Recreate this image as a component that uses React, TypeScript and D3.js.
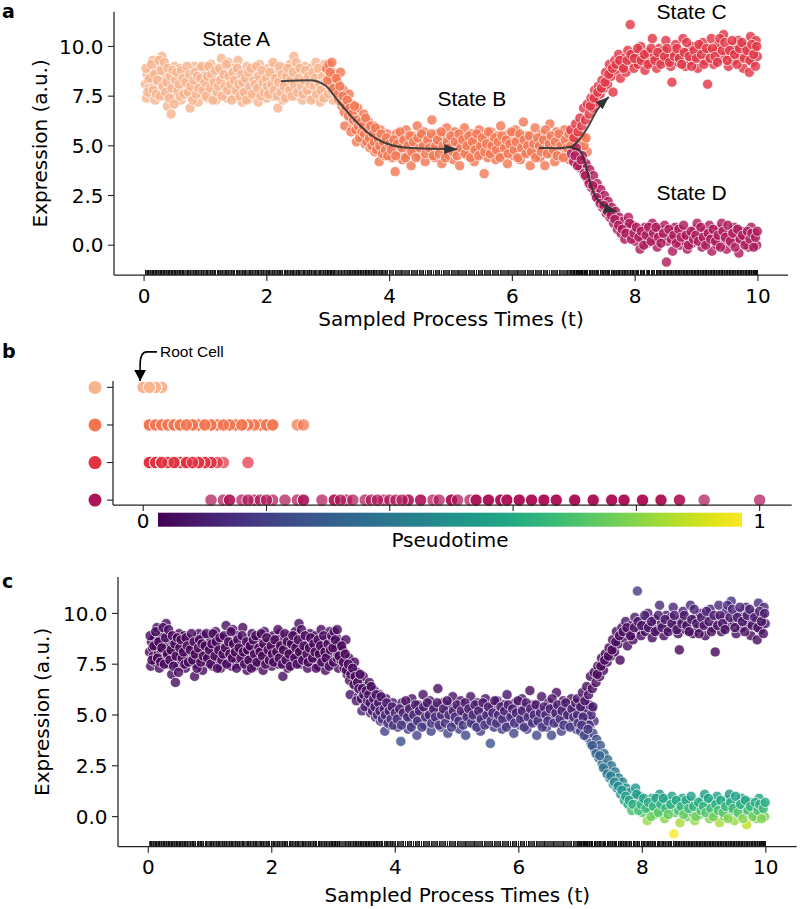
import React from 'react';
import * as d3 from 'd3';

const stateNames = ['State A', 'State B', 'State C', 'State D'];
const stateColors = ['#f6b48f', '#f37651', '#e13342', '#ad1759'];

// every cell: [sampled time t, expression (a.u.), pseudotime]
const stateA = [
  [0.02,8.1,.01],[0.04,7.4,.02],[0.05,8.6,.01],[0.07,8.3,0],[0.08,7.9,.01],[0.10,8.8,.02],[0.11,7.6,.02],[0.13,8.4,.01],
  [0.14,9.3,.03],[0.16,8.0,.01],[0.18,7.3,.02],[0.19,8.7,.02],[0.21,8.2,.01],[0.23,9.0,.02],[0.25,7.8,.01],[0.27,8.5,.01],
  [0.29,9.5,.03],[0.30,8.1,0],[0.32,7.5,.02],[0.34,8.9,.02],[0.36,8.3,.01],[0.38,7.0,.03],[0.40,8.6,.01],[0.42,7.8,.01],
  [0.44,6.6,.03],[0.46,8.2,.01],[0.48,7.4,.02],[0.50,9.0,.02],[0.52,8.0,.01],[0.54,7.7,.01],[0.56,8.5,.01],[0.58,8.9,.02],
  [0.60,7.3,.02],[0.62,8.2,0],[0.64,7.9,.01],[0.66,8.7,.01],[0.69,7.6,.01],[0.71,8.4,.01],[0.73,8.0,0],[0.75,6.9,.03],
  [0.77,7.5,.02],[0.80,8.6,.01],[0.82,9.0,.02],[0.84,7.8,.01],[0.86,8.3,0],[0.88,7.2,.02],[0.90,8.9,.02],[0.93,8.1,.01],
  [0.95,7.6,.01],[0.97,8.5,.01],[1.00,7.9,0],[1.02,8.7,.01],[1.04,7.4,.02],[1.06,8.2,0],[1.09,9.1,.02],[1.11,7.7,.01],
  [1.13,8.4,.01],[1.15,8.0,0],[1.17,7.3,.02],[1.20,8.8,.01],[1.22,8.3,0],[1.24,7.6,.01],[1.26,9.4,.03],[1.28,8.1,0],
  [1.31,7.9,.01],[1.33,8.6,.01],[1.35,7.4,.02],[1.37,9.2,.02],[1.39,8.2,0],[1.42,7.7,.01],[1.44,8.9,.02],[1.46,8.0,0],
  [1.48,7.5,.01],[1.51,8.4,.01],[1.53,9.3,.02],[1.55,7.8,.01],[1.57,8.3,0],[1.60,7.2,.02],[1.62,8.7,.01],[1.64,8.0,0],
  [1.66,7.6,.01],[1.68,9.0,.02],[1.71,8.2,0],[1.73,7.4,.02],[1.75,8.5,.01],[1.77,7.9,0],[1.80,8.8,.01],[1.82,7.7,.01],
  [1.84,8.3,0],[1.86,7.2,.02],[1.88,9.1,.02],[1.91,8.1,0],[1.93,7.6,.01],[1.95,8.6,.01],[1.97,8.0,0],[2.00,7.4,.02],
  [2.02,8.9,.02],[2.04,8.3,0],[2.06,7.8,.01],[2.09,8.5,.01],[2.11,7.5,.01],[2.13,9.0,.02],[2.15,8.1,0],[2.18,6.9,.03],
  [2.20,8.7,.01],[2.22,7.9,0],[2.24,8.4,.01],[2.26,7.3,.02],[2.29,8.9,.02],[2.31,8.2,0],[2.33,7.7,.01],[2.35,8.6,.01],
  [2.38,9.1,.02],[2.40,7.9,0],[2.42,8.4,.01],[2.44,9.5,.03],[2.46,7.5,.01],[2.49,8.1,0],[2.51,8.8,.01],[2.53,7.8,.01],
  [2.55,8.3,0],[2.58,7.3,.02],[2.60,8.6,.01],[2.62,9.0,.02],[2.64,7.9,0],[2.67,8.4,.01],[2.69,7.6,.01],[2.71,8.9,.02],
  [2.73,8.1,0],[2.76,7.4,.02],[2.78,8.5,.01],[2.80,9.2,.02],[2.82,7.8,.01],[2.85,8.3,0],[2.87,7.2,.02],[2.89,8.7,.01],
  [2.92,8.0,0],[2.94,9.1,.02],[2.96,7.5,.01],[2.99,8.4,.01],[3.02,7.9,0],[3.05,8.8,.01],[3.08,7.3,.02],
  [0.03,8.9,.02],[0.06,7.7,.01],[0.09,8.4,.01],[0.12,9.1,.02],[0.15,7.8,.01],[0.17,8.6,.01],[0.20,7.6,.01],[0.22,8.3,0],
  [0.24,9.3,.03],[0.26,7.5,.02],[0.28,8.8,.02],[0.31,8.0,0],[0.33,9.2,.02],[0.35,7.7,.01],[0.37,8.2,0],[0.39,8.9,.02],
  [0.41,7.4,.02],[0.43,8.5,.01],[0.45,7.9,0],[0.47,8.8,.01],[0.49,7.1,.03],[0.51,8.3,0],[0.53,8.7,.01],[0.55,7.8,.01],
  [0.57,8.1,0],[0.59,7.5,.02],[0.61,8.8,.01],[0.63,8.4,0],[0.65,7.6,.01],[0.68,8.2,0],[0.70,9.0,.02],[0.72,7.7,.01],
  [0.74,8.6,.01],[0.76,8.0,0],[0.79,7.3,.02],[0.81,8.3,0],[0.83,8.7,.01],[0.85,7.6,.01],[0.87,8.5,.01],[0.89,7.9,0],
  [0.92,8.4,0],[0.94,9.0,.02],[0.96,7.8,.01],[0.99,8.2,0],[1.01,7.5,.02],[1.03,8.5,.01],[1.05,9.0,.02],[1.08,7.9,0],
  [1.10,8.6,.01],[1.12,7.3,.02],[1.14,8.2,0],[1.16,8.8,.01],[1.19,7.7,.01],[1.21,8.0,0],[1.23,8.9,.02],[1.25,8.3,0],
  [1.27,7.5,.02],[1.30,8.6,.01],[1.32,8.0,0],[1.34,9.1,.02],[1.36,7.8,.01],[1.38,8.5,.01],[1.41,8.1,0],[1.43,7.3,.02],
  [1.45,8.7,.01],[1.47,8.3,0],[1.50,7.8,.01],[1.52,8.9,.02],[1.54,8.1,0],[1.56,7.5,.02],[1.59,8.6,.01],[1.61,8.2,0],
  [1.63,7.7,.01],[1.65,8.4,0],[1.67,7.3,.02],[1.70,8.7,.01],[1.72,8.0,0],[1.74,8.9,.02],[1.76,7.6,.01],[1.79,8.3,0],
  [1.81,8.1,0],[1.83,9.0,.02],[1.85,7.9,0],[1.87,8.5,.01],[1.90,7.5,.02],[1.92,8.8,.01],[1.94,8.2,0],[1.96,7.7,.01],
  [1.99,8.4,0],[2.01,8.0,0],[2.03,7.6,.01],[2.05,8.7,.01],[2.08,8.1,0],[2.10,9.2,.02],[2.12,7.8,.01],[2.14,8.4,0],
  [2.17,7.5,.02],[2.19,8.2,0],[2.21,9.0,.02],[2.23,7.7,.01],[2.25,8.6,.01],[2.28,8.0,0],[2.30,7.4,.02],[2.32,8.5,.01],
  [2.34,8.9,.02],[2.37,7.8,.01],[2.39,8.3,0],[2.41,7.5,.02],[2.43,8.7,.01],[2.45,8.1,0],[2.48,9.2,.02],[2.50,7.7,.01],
  [2.52,8.4,0],[2.54,8.9,.02],[2.57,8.0,0],[2.59,7.6,.01],[2.61,8.3,0],[2.63,8.8,.01],[2.66,7.8,.01],[2.68,8.5,.01],
  [2.70,8.1,0],[2.72,7.3,.02],[2.75,8.7,.01],[2.77,8.0,0],[2.79,8.4,0],[2.81,7.6,.01],[2.84,8.9,.02],[2.86,8.1,0],
  [2.88,7.8,.01],[2.91,8.5,.01],[2.93,7.4,.02],[2.95,8.2,0],[2.98,8.8,.01],[3.00,7.6,.01],[3.03,8.3,0],[3.06,7.8,.01],
  [3.10,8.5,.01],
];

const stateB = [
  [2.97,8.9,.02],[3.01,9.1,.03],[3.04,8.4,.01],[3.07,8.0,.01],[3.10,8.6,.02],[3.12,7.7,.01],[3.15,8.2,.01],[3.17,7.3,.02],
  [3.20,8.7,.02],[3.22,7.0,.02],[3.25,7.8,.01],[3.27,6.0,.04],[3.29,7.4,.02],[3.32,6.8,.02],[3.34,7.6,.02],[3.36,6.4,.03],
  [3.38,7.1,.02],[3.40,5.9,.04],[3.42,6.7,.03],[3.44,6.2,.03],[3.46,5.2,.09],[3.48,6.9,.02],[3.50,5.7,.05],[3.52,6.4,.03],
  [3.54,6.0,.04],[3.56,5.4,.07],[3.58,6.6,.03],[3.60,5.1,.09],[3.62,5.9,.04],[3.64,5.5,.06],[3.66,6.2,.03],[3.68,4.9,.11],
  [3.70,5.7,.05],[3.72,5.3,.08],[3.74,6.0,.04],[3.76,4.7,.13],[3.78,5.5,.06],[3.80,5.1,.09],[3.83,4.2,.19],[3.85,5.8,.05],
  [3.87,4.9,.11],[3.89,5.4,.07],[3.92,4.5,.15],[3.94,5.0,.10],[3.96,5.6,.06],[3.99,4.8,.12],[4.01,5.3,.08],[4.04,4.4,.16],
  [4.06,5.1,.09],[4.09,3.7,.25],[4.11,5.6,.06],[4.14,4.7,.13],[4.16,5.0,.10],[4.19,5.4,.07],[4.21,4.3,.17],[4.24,4.9,.11],
  [4.27,5.8,.05],[4.29,4.6,.14],[4.32,5.2,.08],[4.35,4.0,.20],[4.37,5.5,.06],[4.40,4.8,.12],[4.42,5.1,.09],[4.45,6.0,.04],
  [4.48,4.5,.15],[4.50,5.3,.08],[4.53,4.9,.11],[4.56,5.7,.05],[4.58,4.2,.19],[4.61,5.0,.10],[4.64,5.4,.07],[4.66,4.7,.13],
  [4.69,6.3,.03],[4.72,5.1,.09],[4.74,4.4,.16],[4.77,5.6,.06],[4.80,4.9,.11],[4.82,5.2,.08],[4.85,4.1,.20],[4.88,5.5,.06],
  [4.90,4.8,.12],[4.93,5.9,.04],[4.96,4.6,.14],[4.98,5.3,.08],[5.01,5.0,.10],[5.04,4.3,.17],[5.06,5.7,.05],[5.09,4.8,.12],
  [5.12,5.1,.09],[5.14,4.0,.21],[5.17,5.4,.07],[5.20,4.7,.13],[5.22,5.9,.04],[5.25,5.2,.08],[5.28,4.5,.15],[5.30,5.0,.10],
  [5.33,5.6,.06],[5.36,4.8,.12],[5.38,4.2,.18],[5.41,5.3,.08],[5.44,4.9,.11],[5.46,5.8,.05],[5.49,4.6,.14],[5.52,5.1,.09],
  [5.54,3.6,.26],[5.57,5.4,.07],[5.60,4.4,.16],[5.62,5.0,.10],[5.65,5.7,.05],[5.68,4.7,.13],[5.70,5.2,.08],[5.73,4.3,.17],
  [5.76,5.5,.06],[5.78,4.9,.11],[5.81,6.0,.04],[5.84,4.6,.14],[5.86,5.3,.08],[5.89,5.0,.10],[5.92,4.1,.20],[5.94,5.6,.06],
  [5.97,4.8,.12],[6.00,5.2,.08],[6.02,4.5,.15],[6.05,5.8,.05],[6.08,4.9,.11],[6.10,5.4,.07],[6.13,4.3,.17],[6.16,5.1,.09],
  [6.18,6.2,.03],[6.21,4.7,.13],[6.24,5.5,.06],[6.26,5.0,.10],[6.29,4.0,.21],[6.32,5.3,.08],[6.34,4.6,.14],[6.37,5.9,.04],
  [6.40,4.9,.11],[6.42,5.2,.08],[6.45,4.4,.16],[6.48,5.6,.06],[6.50,4.8,.12],[6.53,4.0,.21],[6.56,5.4,.07],[6.58,5.0,.10],
  [6.61,6.1,.03],[6.64,4.6,.14],[6.66,5.2,.08],[6.69,4.2,.18],[6.72,5.7,.05],[6.74,4.9,.11],[6.77,5.3,.08],[6.80,4.5,.15],
  [6.82,5.0,.10],[6.85,5.8,.05],[6.88,4.7,.13],[6.90,5.3,.08],[6.93,4.3,.17],[6.96,5.5,.06],[6.98,4.9,.11],[7.01,5.2,.08],
  [7.04,4.6,.14],[7.06,5.6,.06],[7.09,4.8,.12],[7.12,5.1,.09],[7.15,4.4,.16],[7.18,5.3,.08],[7.22,4.7,.13],
  [2.99,8.3,.01],[3.03,8.7,.02],[3.06,9.2,.03],[3.09,7.9,.01],[3.13,8.4,.01],[3.16,7.6,.01],[3.19,8.0,.01],[3.21,7.2,.02],
  [3.24,7.5,.02],[3.26,6.7,.03],[3.28,7.0,.02],[3.31,7.3,.02],[3.33,6.5,.03],[3.35,6.9,.02],[3.37,5.7,.05],[3.39,6.6,.03],
  [3.41,6.3,.03],[3.43,7.0,.02],[3.45,5.8,.05],[3.47,6.3,.03],[3.49,6.0,.04],[3.51,5.4,.07],[3.53,6.2,.03],[3.55,5.7,.05],
  [3.57,6.0,.04],[3.59,5.6,.06],[3.61,6.4,.03],[3.63,5.2,.08],[3.65,5.8,.05],[3.67,5.4,.07],[3.69,6.0,.04],[3.71,5.0,.10],
  [3.73,5.6,.06],[3.75,5.2,.08],[3.77,5.9,.04],[3.79,4.8,.12],[3.82,5.3,.08],[3.84,5.0,.10],[3.86,5.6,.06],[3.88,4.6,.14],
  [3.90,5.2,.08],[3.93,4.8,.12],[3.95,5.4,.07],[3.97,4.5,.15],[4.00,5.1,.09],
  [4.03,4.8,.12],[4.07,5.3,.08],[4.10,4.5,.15],[4.13,5.1,.09],[4.17,5.7,.05],[4.20,4.9,.11],[4.23,5.3,.08],[4.26,4.4,.16],
  [4.30,5.0,.10],[4.33,5.5,.06],[4.36,4.7,.13],[4.39,5.2,.08],[4.43,4.4,.16],[4.46,5.4,.07],[4.49,4.9,.11],[4.52,5.6,.06],
  [4.55,5.0,.10],[4.59,4.6,.14],[4.62,5.3,.08],[4.65,4.9,.11],[4.68,5.6,.06],[4.71,4.5,.15],[4.75,5.0,.10],[4.78,5.3,.08],
  [4.81,4.6,.14],[4.84,5.7,.05],[4.87,5.0,.10],[4.91,4.4,.16],[4.94,5.2,.08],[4.97,4.9,.11],[5.00,5.5,.06],[5.03,4.7,.13],
  [5.07,5.2,.08],[5.10,4.5,.15],[5.13,5.6,.06],[5.16,4.9,.11],[5.19,5.3,.08],[5.23,4.6,.14],[5.26,5.0,.10],[5.29,5.5,.06],
  [5.32,4.4,.16],[5.35,5.2,.08],[5.39,4.8,.12],[5.42,5.6,.06],[5.45,4.5,.15],[5.48,5.0,.10],[5.51,5.4,.07],[5.55,4.7,.13],
  [5.58,5.1,.09],[5.61,5.7,.05],[5.64,4.6,.14],[5.67,5.0,.10],[5.71,5.4,.07],[5.74,4.8,.12],[5.77,5.2,.08],[5.80,4.4,.16],
  [5.83,5.5,.06],[5.87,4.9,.11],[5.90,5.3,.08],[5.93,4.6,.14],[5.96,5.1,.09],[5.99,5.7,.05],[6.03,4.8,.12],[6.06,5.2,.08],
  [6.09,4.4,.16],[6.12,5.6,.06],[6.15,4.9,.11],[6.19,5.3,.08],[6.22,4.6,.14],[6.25,5.0,.10],[6.28,5.5,.06],[6.31,4.7,.13],
  [6.35,5.1,.09],[6.38,4.4,.16],[6.41,5.4,.07],[6.44,5.0,.10],[6.47,4.7,.13],[6.51,5.3,.08],[6.54,5.8,.05],[6.57,4.6,.14],
  [6.60,5.1,.09],[6.63,5.5,.06],[6.67,4.8,.12],[6.70,5.2,.08],[6.73,4.5,.15],[6.76,5.6,.06],[6.79,5.0,.10],[6.83,4.4,.16],
  [6.86,5.3,.08],[6.89,4.9,.11],[6.92,5.6,.06],[6.95,5.0,.10],[6.99,4.6,.14],[7.02,5.4,.07],[7.05,4.9,.11],[7.08,5.3,.08],
  [7.11,4.7,.13],[7.14,5.5,.06],[7.17,5.0,.10],[7.20,5.4,.07],
];

const stateC = [
  [6.95,5.8,.05],[7.00,5.4,.07],[7.03,6.1,.04],[7.07,5.7,.05],[7.10,6.4,.03],[7.13,6.0,.04],[7.16,6.9,.02],[7.19,6.3,.03],
  [7.22,7.1,.01],[7.25,6.6,.02],[7.28,7.4,.01],[7.31,6.9,.02],[7.34,7.8,.01],[7.37,7.2,.01],[7.40,8.0,.01],[7.43,7.6,.01],
  [7.46,8.3,.02],[7.49,7.9,.01],[7.52,8.7,.02],[7.55,8.1,.01],[7.58,9.1,.03],[7.61,8.5,.02],[7.64,7.7,.01],[7.67,9.3,.04],
  [7.70,8.8,.02],[7.73,9.6,.05],[7.76,8.4,.02],[7.79,9.0,.03],[7.82,9.4,.04],[7.85,8.7,.02],[7.88,9.8,.06],[7.92,11.1,.17],
  [7.95,9.2,.03],[7.98,8.9,.02],[8.02,9.6,.05],[8.05,9.1,.03],[8.09,10.0,.08],[8.13,9.4,.04],[8.16,8.8,.02],[8.20,9.7,.06],
  [8.24,9.2,.03],[8.28,10.4,.11],[8.31,9.5,.05],[8.35,8.9,.02],[8.39,9.9,.07],[8.43,9.3,.04],[8.46,9.8,.07],[8.50,10.3,.10],
  [8.54,9.4,.04],[8.58,9.0,.03],[8.60,8.2,.01],[8.62,9.7,.06],[8.66,10.1,.09],[8.70,9.2,.03],[8.74,9.6,.05],[8.78,10.4,.11],
  [8.82,9.0,.03],[8.86,9.8,.07],[8.90,9.3,.04],[8.94,10.0,.08],[8.98,9.5,.05],[9.02,8.9,.02],[9.06,9.9,.07],[9.10,10.2,.09],
  [9.14,9.3,.04],[9.18,8.1,.01],[9.20,9.7,.06],[9.24,10.4,.11],[9.28,9.1,.03],[9.32,9.8,.07],[9.36,10.1,.09],[9.40,9.4,.04],
  [9.44,10.6,.13],[9.48,9.6,.05],[9.52,9.0,.03],[9.56,10.0,.08],[9.60,9.3,.04],[9.64,9.8,.07],[9.68,10.3,.10],[9.72,9.5,.05],
  [9.76,8.9,.02],[9.80,10.0,.08],[9.84,9.6,.05],[9.86,8.7,.02],[9.88,10.5,.12],[9.91,9.2,.03],[9.94,9.9,.07],[9.97,10.3,.10],
  [9.99,9.5,.05],
  [7.27,7.0,.02],[7.33,7.4,.01],[7.39,7.7,.01],[7.45,7.9,.01],[7.51,8.2,.01],[7.57,8.6,.02],[7.63,8.9,.02],[7.69,9.1,.03],
  [7.75,9.3,.04],[7.81,8.9,.02],[7.87,9.3,.04],[7.93,9.6,.05],[7.99,9.4,.04],[8.04,9.9,.07],[8.10,9.3,.04],[8.15,9.6,.05],
  [8.21,9.1,.03],[8.26,9.9,.07],[8.32,9.3,.04],[8.37,9.7,.06],[8.42,9.1,.03],[8.48,9.5,.05],[8.52,9.9,.07],[8.56,9.2,.03],
  [8.64,9.5,.05],[8.68,9.9,.07],[8.72,9.4,.04],[8.76,9.1,.03],[8.80,9.7,.06],[8.84,10.2,.09],[8.88,9.5,.05],[8.92,9.0,.03],
  [8.96,9.8,.07],[9.00,9.4,.04],[9.04,10.1,.09],[9.08,9.6,.05],[9.12,9.1,.03],[9.16,9.9,.07],[9.22,9.4,.04],[9.26,9.9,.07],
  [9.30,9.5,.05],[9.34,9.2,.03],[9.38,10.4,.11],[9.42,9.8,.07],[9.46,10.2,.09],[9.50,9.3,.04],[9.54,9.8,.07],[9.58,10.3,.10],
  [9.62,9.6,.05],[9.66,9.1,.03],[9.70,9.9,.07],[9.74,10.2,.09],[9.78,9.4,.04],[9.82,9.8,.07],[9.87,9.3,.04],[9.90,10.1,.09],
  [9.93,9.6,.05],[9.96,9.0,.03],[9.98,10.0,.08],
];

const stateD = [
  [6.96,4.6,.13],[7.00,4.2,.18],[7.04,4.9,.11],[7.08,4.4,.16],[7.11,3.9,.21],[7.14,4.5,.14],[7.17,3.6,.25],[7.20,4.1,.19],
  [7.23,3.3,.29],[7.26,3.8,.23],[7.29,2.9,.33],[7.32,3.5,.26],[7.35,2.6,.36],[7.38,3.1,.31],[7.41,2.3,.39],[7.44,2.8,.34],
  [7.47,1.9,.43],[7.50,2.5,.37],[7.53,1.6,.47],[7.56,2.2,.40],[7.59,1.4,.50],[7.62,1.9,.43],[7.65,1.1,.54],[7.68,1.7,.45],
  [7.71,0.8,.59],[7.74,1.4,.50],[7.77,0.6,.63],[7.80,1.2,.53],[7.83,0.3,.70],[7.86,0.9,.58],[7.89,1.4,.50],[7.92,0.5,.65],
  [7.96,1.0,.56],[8.00,0.2,.73],[8.04,0.7,.61],[8.08,-0.2,.84],[8.12,0.4,.67],[8.16,0.9,.58],[8.20,0.1,.76],[8.24,0.6,.63],
  [8.28,1.1,.54],[8.32,0.3,.70],[8.36,-0.1,.81],[8.40,0.8,.59],[8.44,0.4,.67],[8.48,1.0,.56],[8.51,-0.85,1],[8.53,0.2,.73],
  [8.57,0.6,.63],[8.61,-0.3,.87],[8.65,0.9,.58],[8.69,0.3,.70],[8.73,0.0,.78],[8.77,0.7,.61],[8.81,0.2,.73],[8.85,-0.2,.84],
  [8.89,0.5,.65],[8.93,0.1,.76],[8.97,0.8,.59],[9.01,1.1,.54],[9.05,0.4,.67],[9.09,-0.1,.81],[9.13,0.7,.61],[9.17,0.2,.73],
  [9.21,1.0,.56],[9.25,-0.3,.87],[9.29,0.5,.65],[9.33,0.0,.78],[9.37,0.8,.59],[9.41,1.1,.54],[9.45,0.3,.70],[9.49,-0.2,.84],
  [9.53,0.6,.63],[9.57,0.1,.76],[9.61,0.9,.58],[9.65,0.4,.67],[9.69,-0.4,.91],[9.73,0.7,.61],[9.77,0.2,.73],[9.81,0.5,.65],
  [9.85,-0.1,.81],[9.89,0.9,.58],[9.92,0.3,.70],[9.95,0.6,.63],[9.98,0.0,.78],
  [7.02,4.5,.14],[7.06,4.0,.20],[7.12,4.3,.17],[7.19,3.5,.26],[7.25,3.1,.31],[7.31,3.0,.32],[7.37,2.4,.38],[7.43,2.1,.41],
  [7.49,2.0,.42],[7.55,1.7,.45],[7.61,1.5,.48],[7.67,1.3,.51],[7.73,1.0,.56],[7.79,0.8,.59],[7.85,0.6,.63],[7.91,1.1,.54],
  [7.94,0.3,.70],[7.98,0.6,.63],[8.02,0.9,.58],[8.06,0.4,.67],[8.10,0.7,.61],[8.14,0.0,.78],[8.18,0.5,.65],[8.22,0.9,.58],
  [8.26,0.2,.73],[8.30,0.6,.63],[8.34,0.9,.58],[8.38,0.4,.67],[8.42,0.1,.76],[8.46,0.6,.63],[8.55,0.8,.59],[8.59,0.3,.70],
  [8.63,0.5,.65],[8.67,0.1,.76],[8.71,0.8,.59],[8.75,0.4,.67],[8.79,1.0,.56],[8.83,0.5,.65],[8.87,0.0,.78],[8.91,0.7,.61],
  [8.95,0.3,.70],[8.99,0.5,.65],[9.03,0.2,.73],[9.07,0.9,.58],[9.11,0.4,.67],[9.15,0.0,.78],[9.19,0.6,.63],[9.23,0.3,.70],
  [9.27,0.8,.59],[9.31,0.2,.73],[9.35,0.5,.65],[9.39,-0.1,.81],[9.43,0.7,.61],[9.47,0.4,.67],[9.51,1.0,.56],[9.55,0.2,.73],
  [9.59,0.6,.63],[9.63,-0.1,.81],[9.67,0.8,.59],[9.71,0.3,.70],[9.75,0.5,.65],[9.79,0.0,.78],[9.83,0.7,.61],[9.87,0.3,.70],
  [9.90,0.6,.63],[9.93,-0.1,.81],[9.96,0.4,.67],[9.99,0.7,.61],
];

const timeTicks = [0, 2, 4, 6, 8, 10];
const exprTicks = [0, 2.5, 5, 7.5, 10];
const ptTicks = [0, 0.2, 0.4, 0.6, 0.8, 1];
const ptTickLabels = ['0', '', '', '', '', '1'];

// trajectory arrows in panel a, in (t, expression)
const arrowAtoB = [[2.23, 8.25], [2.7, 8.3], [2.95, 8.05], [3.15, 7.3], [3.4, 6.4], [3.65, 5.65], [3.9, 5.18], [4.2, 4.93], [4.7, 4.85], [5.1, 4.83]];
const arrowBtoC = [[6.43, 4.9], [6.75, 4.88], [6.95, 4.95], [7.08, 5.28], [7.24, 6.0], [7.38, 6.8], [7.57, 7.46]];
const arrowBtoD = [[6.94, 4.93], [7.1, 4.75], [7.18, 4.2], [7.24, 3.44], [7.33, 2.6], [7.47, 2.05], [7.7, 1.68]];
const stateLabelPos = [[1.5, 10.0], [5.34, 7.0], [8.92, 11.4], [8.92, 2.26]];

const FONT = "'DejaVu Sans', sans-serif";
const ANNOT = "'Liberation Sans', Arial, sans-serif";
const AXIS = '#222';

const points = [stateA, stateB, stateC, stateD].flatMap((rows, s) =>
  rows.map(([t, e, pt]) => ({ t, e, pt, s }))
);

const curve = d3.line().curve(d3.curveMonotoneX);

const Scatter = ({ box, xDomain, yDomain, fill, letter, letterY, xLabelY, yLabelX, children }) => {
  const x = d3.scaleLinear().domain(xDomain).range([box.left, box.right]);
  const y = d3.scaleLinear().domain(yDomain).range([box.bottom, box.top]);
  return (
    <g>
      {points.map((d, i) => (
        <circle key={i} cx={x(d.t)} cy={y(d.e)} r={5.1} fill={fill(d)} fillOpacity={0.8} stroke="#fff" strokeWidth={0.7} />
      ))}
      <g shapeRendering="crispEdges">
        {points.map((d, i) => (
          <line key={'r' + i} x1={x(d.t)} x2={x(d.t)} y1={box.bottom} y2={box.bottom - 5.5} stroke="#000" strokeWidth={0.7} />
        ))}
      </g>
      <line x1={box.left} x2={box.left} y1={box.top} y2={box.bottom} stroke={AXIS} strokeWidth={1.25} />
      <line x1={box.left} x2={box.right} y1={box.bottom} y2={box.bottom} stroke={AXIS} strokeWidth={1.25} />
      {timeTicks.map(t => (
        <g key={t}>
          <line x1={x(t)} x2={x(t)} y1={box.bottom} y2={box.bottom + 6} stroke={AXIS} strokeWidth={1.1} />
          <text x={x(t)} y={box.bottom + 27.5} textAnchor="middle" fontSize={20} fontFamily={FONT}>{t}</text>
        </g>
      ))}
      {exprTicks.map(v => (
        <g key={v}>
          <line x1={box.left - 6} x2={box.left} y1={y(v)} y2={y(v)} stroke={AXIS} strokeWidth={1.1} />
          <text x={box.left - 10.5} y={y(v)} dy="0.36em" textAnchor="end" fontSize={20} fontFamily={FONT}>{v.toFixed(1)}</text>
        </g>
      ))}
      <text x={(box.left + box.right) / 2} y={xLabelY} textAnchor="middle" fontSize={20} fontFamily={FONT}>Sampled Process Times (t)</text>
      <text transform={`translate(${yLabelX},${(box.top + box.bottom) / 2}) rotate(-90)`} textAnchor="middle" fontSize={20} fontFamily={FONT}>Expression (a.u.)</text>
      <text x={2} y={letterY} fontSize={19} fontWeight="bold" fontFamily={FONT}>{letter}</text>
      {children && children(x, y)}
    </g>
  );
};

const PseudotimePanel = () => {
  const box = { left: 113, right: 791.7, top: 381, bottom: 505 };
  const x = d3.scaleLinear().domain([-0.049, 1.052]).range([box.left, box.right]);
  const y = d3.scaleLinear().domain([-0.17, 3.13]).range([box.top, box.bottom]);
  const viridisStops = d3.range(0, 1.0001, 0.05);
  const tip = [x(-0.005), y(0) - 6.5];
  return (
    <g>
      <defs>
        <linearGradient id="viridis" x1="0" x2="1" y1="0" y2="0">
          {viridisStops.map(s => <stop key={s} offset={s} stopColor={d3.interpolateViridis(s)} />)}
        </linearGradient>
        <marker id="rootHead" viewBox="0 0 11 12" refX={11} refY={6} markerWidth={11} markerHeight={12} markerUnits="userSpaceOnUse" orient="auto">
          <path d="M0,0 L11,6 L0,12 z" fill="#000" />
        </marker>
      </defs>
      {points.map((d, i) => (
        <circle key={i} cx={x(d.pt)} cy={y(d.s)} r={6.2} fill={stateColors[d.s]} fillOpacity={0.72} stroke="#fff" strokeWidth={0.8} />
      ))}
      <line x1={box.left} x2={box.left} y1={box.top} y2={box.bottom} stroke={AXIS} strokeWidth={1.25} />
      <line x1={box.left} x2={box.right} y1={box.bottom} y2={box.bottom} stroke={AXIS} strokeWidth={1.25} />
      {stateNames.map((n, s) => (
        <g key={n}>
          <line x1={box.left - 6} x2={box.left} y1={y(s)} y2={y(s)} stroke={AXIS} strokeWidth={1.1} />
          <circle cx={95} cy={y(s)} r={6.5} fill={stateColors[s]} />
        </g>
      ))}
      {ptTicks.map((p, i) => (
        <g key={p}>
          <line x1={x(p)} x2={x(p)} y1={box.bottom} y2={box.bottom + 6} stroke={AXIS} strokeWidth={1.1} />
          <text x={x(p)} y={528} textAnchor="middle" fontSize={20} fontFamily={FONT}>{ptTickLabels[i]}</text>
        </g>
      ))}
      <rect x={158} y={512.7} width={584} height={14} fill="url(#viridis)" />
      <text x={450} y={547} textAnchor="middle" fontSize={20} fontFamily={FONT}>Pseudotime</text>
      <path d={`M157,${tip[1] - 29} L147,${tip[1] - 29} Q${tip[0]},${tip[1] - 29} ${tip[0]},${tip[1] - 16} L${tip[0]},${tip[1]}`}
        fill="none" stroke="#000" strokeWidth={1.6} markerEnd="url(#rootHead)" />
      <text x={160} y={357.3} fontSize={15.5} fontFamily={ANNOT}>Root Cell</text>
      <text x={2} y={358} fontSize={19} fontWeight="bold" fontFamily={FONT}>b</text>
    </g>
  );
};

const App = () => {
  const stateFill = d => stateColors[d.s];
  const ptFill = d => d3.interpolateViridis(d.pt);
  return (
    <svg width={800} height={909} style={{ position: 'absolute', left: 0, top: 0, background: '#fff' }}>
      <defs>
        <marker id="trajHead" viewBox="0 0 13 10" refX={13} refY={5} markerWidth={13} markerHeight={10} markerUnits="userSpaceOnUse" orient="auto">
          <path d="M0,0 L13,5 L0,10 z" fill="#333" />
        </marker>
      </defs>
      <Scatter box={{ left: 114, right: 788, top: 11.7, bottom: 275 }} xDomain={[-0.49, 10.49]} yDomain={[-1.5, 11.75]}
        fill={stateFill} letter="a" letterY={18} xLabelY={326} yLabelX={47}>
        {(x, y) => (
          <g>
            {[arrowAtoB, arrowBtoC, arrowBtoD].map((a, i) => (
              <path key={i} d={curve(a.map(([t, e]) => [x(t), y(e)]))} fill="none" stroke="#333" strokeOpacity={0.9}
                strokeWidth={2} markerEnd="url(#trajHead)" />
            ))}
            {stateNames.map((n, i) => (
              <text key={n} x={x(stateLabelPos[i][0])} y={y(stateLabelPos[i][1])} textAnchor="middle" fontSize={21} fontFamily={ANNOT}>{n}</text>
            ))}
          </g>
        )}
      </Scatter>
      <PseudotimePanel />
      <Scatter box={{ left: 118, right: 796.7, top: 577, bottom: 846.7 }} xDomain={[-0.49, 10.5]} yDomain={[-1.48, 11.79]}
        fill={ptFill} letter="c" letterY={588} xLabelY={902} yLabelX={49} />
    </svg>
  );
};

export default App;
